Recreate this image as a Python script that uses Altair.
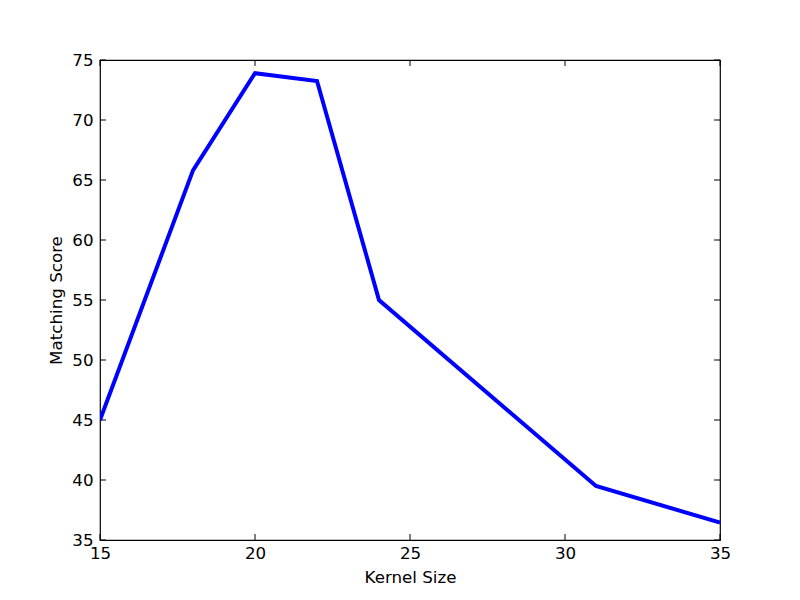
import altair as alt
import pandas as pd

kernel_size = [15, 18, 20, 22, 24, 31, 35]
matching_score = [45.0, 65.8, 73.9, 73.25, 55.0, 39.5, 36.45]
x_ticks = [15, 20, 25, 30, 35]
y_ticks = [35, 40, 45, 50, 55, 60, 65, 70, 75]

W, H = 620, 480
TL = 6

df = pd.DataFrame({"k": kernel_size, "s": matching_score})
xt = pd.DataFrame({"t": x_ticks})
yt = pd.DataFrame({"t": y_ticks})

xs = alt.Scale(domain=[15, 35], nice=False, zero=False)
ys = alt.Scale(domain=[35, 75], nice=False, zero=False)

line = alt.Chart(df).mark_line(color="#0000ff", strokeWidth=4, clip=True).encode(
    x=alt.X("k:Q", scale=xs, title="Kernel Size",
            axis=alt.Axis(values=x_ticks, ticks=False, domain=False, grid=False,
                          labelFlush=False, labelPadding=5, titlePadding=8, format="d")),
    y=alt.Y("s:Q", scale=ys, title="Matching Score",
            axis=alt.Axis(values=y_ticks, ticks=False, domain=False, grid=False,
                          labelFlush=False, labelPadding=7, titlePadding=6, format="d")),
)

xb = alt.Chart(xt).mark_rule(color="black").encode(
    x=alt.X("t:Q", scale=xs), y=alt.value(H), y2=alt.value(H - TL))
xtop = alt.Chart(xt).mark_rule(color="black").encode(
    x=alt.X("t:Q", scale=xs), y=alt.value(0), y2=alt.value(TL))
yl = alt.Chart(yt).mark_rule(color="black").encode(
    y=alt.Y("t:Q", scale=ys), x=alt.value(0), x2=alt.value(TL))
yr = alt.Chart(yt).mark_rule(color="black").encode(
    y=alt.Y("t:Q", scale=ys), x=alt.value(W), x2=alt.value(W - TL))

chart = alt.layer(xb, xtop, yl, yr, line).properties(
    width=W, height=H,
    background="white",
    autosize=alt.AutoSizeParams(type="none"),
    padding={"left": 92, "top": 52, "right": 72, "bottom": 52},
).configure_view(stroke="black", strokeWidth=1.2).configure_axis(
    labelFont="DejaVu Sans", titleFont="DejaVu Sans",
    labelFontSize=16.7, titleFontSize=16.7, titleFontWeight="normal",
    labelColor="black", titleColor="black",
)

chart.save("out.html", embed_options={"renderer": "svg", "actions": False})
